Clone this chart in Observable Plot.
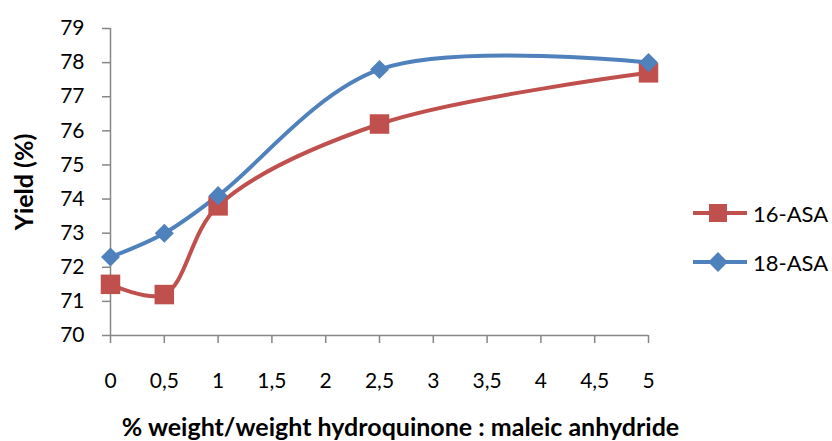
<!DOCTYPE html>
<html>
<head>
<meta charset="utf-8">
<script src="https://cdn.jsdelivr.net/npm/d3@7"></script>
<script src="https://cdn.jsdelivr.net/npm/@observablehq/plot@0.6"></script>
<style>
  html, body { margin: 0; padding: 0; background: #fff; }
  #wrap { position: relative; width: 832px; height: 441px; overflow: hidden; font-family: Lato, "Open Sans", sans-serif; }
  #legend { position: absolute; left: 692px; top: 201px; width: 140px; font-size: 22px; color: #000; white-space: nowrap; }
  .item { display: flex; align-items: center; height: 24px; margin-bottom: 25px; white-space: nowrap; }
  .item svg { margin-right: 5px; flex: none; }
</style>
</head>
<body>
<div id="wrap"></div>
<script>
const xValues = [0, 0.5, 1, 2.5, 5];
const asa16 = [71.5, 71.2, 73.8, 76.2, 77.7];
const asa18 = [72.3, 73.0, 74.1, 77.8, 78.0];
const seriesNames = ["16-ASA", "18-ASA"];
const seriesColors = ["#C0504D", "#4F81BD"];
const xTicks = [0, 0.5, 1, 1.5, 2, 2.5, 3, 3.5, 4, 4.5, 5];
const yTicks = [70, 71, 72, 73, 74, 75, 76, 77, 78, 79];
const xTitle = "% weight/weight hydroquinone : maleic anhydride";
const yTitle = "Yield (%)";

const d16 = xValues.map((x, i) => ({x, y: asa16[i]}));
const d18 = xValues.map((x, i) => ({x, y: asa18[i]}));
const axisGray = "#868686";
const fmt = d => String(d).replace(".", ",");

const chart = Plot.plot({
  width: 832,
  height: 441,
  marginLeft: 110,
  marginRight: 184,
  marginTop: 28,
  marginBottom: 106,
  style: {fontFamily: "Lato, 'Open Sans', sans-serif", background: "#fff"},
  x: {domain: [0, 5]},
  y: {domain: [70, 79]},
  marks: [
    Plot.axisY({ticks: yTicks, tickSize: 8, tickPadding: 18, fontSize: 21, label: null, stroke: axisGray, fill: "#000"}),
    Plot.axisY({ticks: [], label: yTitle, labelAnchor: "center", labelArrow: "none", labelOffset: 95, fontSize: 25, fontWeight: "bold", fill: "#000"}),
    Plot.axisX({ticks: xTicks, tickSize: 8, tickPadding: 30, fontSize: 21, label: null, tickFormat: fmt, stroke: axisGray, fill: "#000"}),
    Plot.ruleX([0], {stroke: axisGray, strokeWidth: 1.5}),
    Plot.ruleY([70], {stroke: axisGray, strokeWidth: 1.5}),
    Plot.line(d16, {x: "x", y: "y", stroke: seriesColors[0], strokeWidth: 4, curve: "catmull-rom"}),
    Plot.line(d18, {x: "x", y: "y", stroke: seriesColors[1], strokeWidth: 4, curve: "catmull-rom"}),
    Plot.dot(d16, {x: "x", y: "y", symbol: "square", r: 11, fill: seriesColors[0], stroke: null}),
    Plot.dot(d18, {x: "x", y: "y", symbol: "square", r: 7.6, rotate: 45, fill: seriesColors[1], stroke: null}),
    Plot.text([xTitle], {frameAnchor: "bottom", dy: 100, dx: 21, fontSize: 25, fontWeight: "bold", fill: "#000"})
  ]
});
chart.querySelectorAll('g[aria-label="y-axis tick"] path, g[aria-label="x-axis tick"] path').forEach(p => p.setAttribute("stroke-width", "1.5"));
chart.querySelectorAll('g[aria-label="y-axis label"]').forEach(g => { g.setAttribute("font-weight", "bold"); g.setAttribute("font-size", "25"); });
const wrap = document.getElementById("wrap");
wrap.appendChild(chart);

const legend = document.createElement("div");
legend.id = "legend";
seriesNames.forEach((name, i) => {
  const item = document.createElement("div");
  item.className = "item";
  const marker = i === 0
    ? `<rect x="17" y="3" width="18" height="18" fill="${seriesColors[i]}"/>`
    : `<rect x="19" y="5" width="14" height="14" fill="${seriesColors[i]}" transform="rotate(45 26 12)"/>`;
  item.innerHTML = `<svg width="56" height="24"><line x1="1" x2="55" y1="12" y2="12" stroke="${seriesColors[i]}" stroke-width="4"/>${marker}</svg><span>${name}</span>`;
  legend.appendChild(item);
});
wrap.appendChild(legend);
</script>
</body>
</html>
